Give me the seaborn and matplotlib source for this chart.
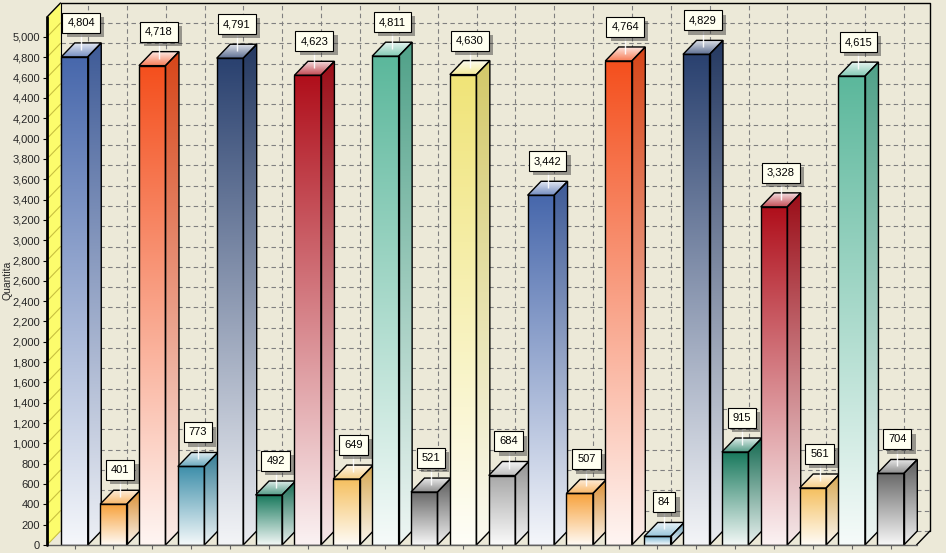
import numpy as np
import pandas as pd
import matplotlib
matplotlib.use("Agg")
import matplotlib.pyplot as plt
import matplotlib.colors as mcolors
import matplotlib.patheffects as pe
from matplotlib.patches import Polygon
import seaborn as sns

items = [str(i) for i in range(1, 23)]
values = [4804, 401, 4718, 773, 4791, 492, 4623, 649, 4811, 521, 4630,
          684, 3442, 507, 4764, 84, 4829, 915, 3328, 561, 4615, 704]
bar_colors = ["#4868ac", "#f7a23c", "#f4501e", "#3e8faa", "#2b4270", "#1a7a5e",
              "#b0101c", "#f5c060", "#5cb89c", "#6a6a6a", "#f0e478", "#a8a8a8",
              "#4868ac", "#f7a23c", "#f4501e", "#78b4d0", "#2b4270", "#1a7a5e",
              "#b0101c", "#f5c060", "#5cb89c", "#6a6a6a"]
y_ticks = list(range(0, 5001, 200))
y_label = "Quantita"

df = pd.DataFrame({"item": items, "value": values})

sns.set_theme(style="white")
plt.rcParams["font.family"] = ["Liberation Sans", "DejaVu Sans"]

bg = "#ece9d8"
fig = plt.figure(figsize=(9.46, 5.53), dpi=100, facecolor=bg)
ax = fig.add_axes([47 / 946, 8 / 553, 883 / 946, 542 / 553])
ax.set_facecolor("none")

# scale: one category = 38.86 px, 1 px = 5000/508 value units
x0, x1 = (47 - 74.5) / 38.86, (930 - 74.5) / 38.86
ytop = 542 * 5000 / 508
dx = 13.5 / 38.86
dy = 14 * 5000 / 508
width = 26.5 / 38.86

sns.barplot(data=df, x="item", y="value", width=width, errorbar=None,
            color="white", ax=ax, zorder=3)
bars = list(ax.containers[0])

# back wall grid
for v in y_ticks:
    ax.plot([x0 + dx, x1], [v + dy, v + dy], color="#808080", lw=0.8,
            ls=(0, (4, 3)), zorder=1)
for i in range(len(items)):
    ax.plot([i + dx, i + dx], [dy, ytop], color="#808080", lw=0.8,
            ls=(0, (4, 3)), zorder=1)

# left yellow wall
ax.add_patch(Polygon([(x0, 0), (x0 + dx, dy), (x0 + dx, ytop), (x0, ytop - dy)],
                     closed=True, facecolor="#fcfc6c", edgecolor="none", zorder=1.5))
for v in y_ticks:
    ax.plot([x0, x0 + dx], [v, v + dy], color="#c8c040", lw=0.8, zorder=2)


def mix(c, t):
    c = np.array(mcolors.to_rgb(c))
    return c * (1 - t) + np.ones(3) * t


def gradient(c_bottom, c_top, n=64):
    t = np.linspace(0, 1, n)[:, None]
    g = c_bottom[None, :] * (1 - t) + c_top[None, :] * t
    return g[:, None, :]


shadow_fx = [pe.SimplePatchShadow(offset=(3, -3), shadow_rgbFace="#303030", alpha=0.45),
             pe.Normal()]

for i, (p, v, c) in enumerate(zip(bars, values, bar_colors)):
    x, w, h = p.get_x(), p.get_width(), p.get_height()
    z = 4 + i * 0.1
    dark = np.array(mcolors.to_rgb(c)) * 0.88
    p.set_facecolor("none")
    p.set_edgecolor("black")
    p.set_linewidth(1)
    p.set_zorder(z + 0.05)
    im = ax.imshow(gradient(mix(c, 0.94), mix(c, 0.0)), extent=[x, x + w, 0, h],
                   origin="lower", aspect="auto", zorder=z, interpolation="bilinear")
    im.set_clip_path(p)

    side = Polygon([(x + w, 0), (x + w + dx, dy), (x + w + dx, h + dy), (x + w, h)],
                   closed=True, facecolor="none", edgecolor="black", lw=1, zorder=z + 0.05)
    ax.add_patch(side)
    im = ax.imshow(gradient(mix(dark, 0.9), dark), extent=[x + w, x + w + dx, 0, h + dy],
                   origin="lower", aspect="auto", zorder=z, interpolation="bilinear")
    im.set_clip_path(side)

    top = Polygon([(x, h), (x + w, h), (x + w + dx, h + dy), (x + dx, h + dy)],
                  closed=True, facecolor="none", edgecolor="black", lw=1, zorder=z + 0.05)
    ax.add_patch(top)
    im = ax.imshow(gradient(mix(c, 0.25), mix(c, 0.85)), extent=[x, x + w + dx, h, h + dy],
                   origin="lower", aspect="auto", zorder=z, interpolation="bilinear")
    im.set_clip_path(top)

    xc = x + w / 2 + dx / 2
    ax.plot([xc, xc], [h + dy * 0.5, h + dy + 90], color="white", lw=1,
            alpha=0.9, zorder=z + 0.06, solid_capstyle="butt")

    ly = h + dy + 197
    t = ax.text(xc, ly, f"{v:,}", fontsize=8, color="black", ha="center", va="center",
                zorder=z + 0.08,
                bbox=dict(boxstyle="square,pad=0.45", facecolor="#fffff0",
                          edgecolor="black", linewidth=0.8))
    t.get_bbox_patch().set_path_effects(shadow_fx)

# frame
k = dict(color="black", lw=1, clip_on=False, zorder=10)
ax.plot([x0 + dx, x1, x1], [ytop, ytop, dy], **k)
ax.plot([x0 + dx, x0 + dx], [dy, ytop], color="black", lw=0.8, zorder=2)
ax.plot([x0, x0 + dx], [ytop - dy, ytop], **k)
ax.plot([x1 - dx, x1], [0, dy], **k)
ax.plot([x0, x1 - dx], [0, 0], color="#606060", lw=1, clip_on=False, zorder=10)
ax.plot([x0, x0], [0, ytop - dy], color="black", lw=2, clip_on=False, zorder=10)

ax.set_xlim(x0, x1)
ax.set_ylim(0, ytop)
ax.set_yticks(y_ticks)
ax.set_yticklabels([f"{t:,}" for t in y_ticks], fontsize=8)
ax.set_xticks(range(len(items)))
ax.set_xticklabels([])
ax.tick_params(axis="y", length=3, width=0.8, color="black", pad=2, left=True)
ax.tick_params(axis="x", length=3, width=0.8, color="#606060", bottom=True)
ax.set_xlabel("")
ax.set_ylabel(y_label, fontsize=7.5)
ax.yaxis.set_label_coords(-(47 - 13) / 883, (545 - 280) / 542)
for s in ax.spines.values():
    s.set_visible(False)

fig.savefig("out.png", dpi=100, facecolor=bg)
